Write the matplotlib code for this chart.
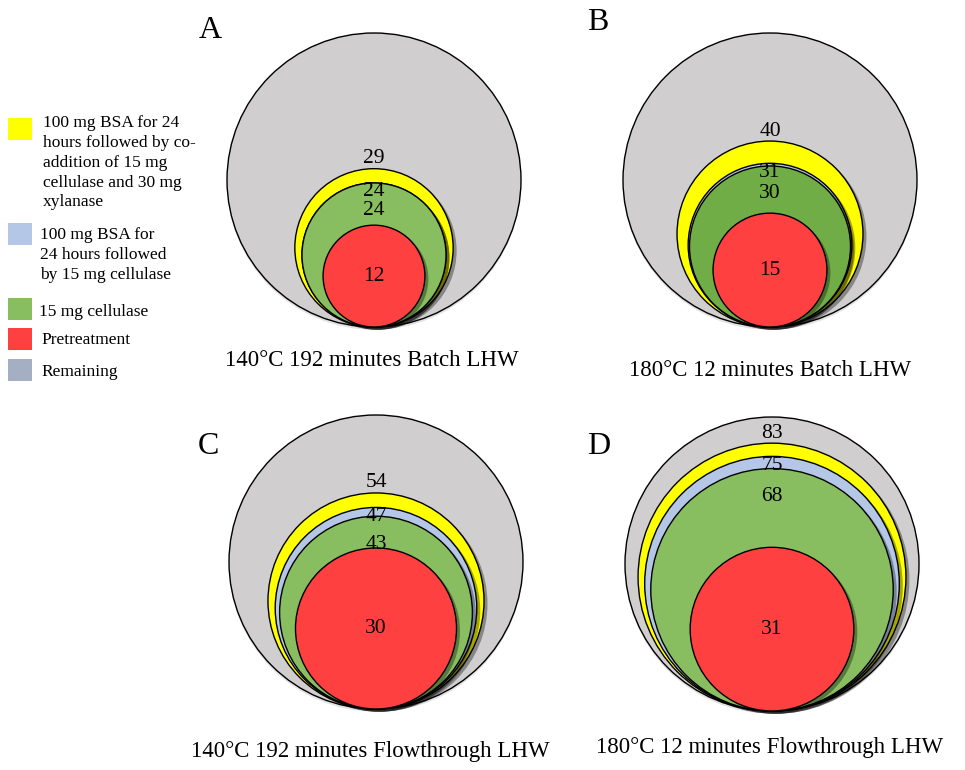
import matplotlib
matplotlib.use('Agg')
import matplotlib.pyplot as plt
import matplotlib.patheffects as pe
from matplotlib.patches import Circle, Rectangle
import numpy as np

plt.rcParams['font.family'] = ['Liberation Serif', 'DejaVu Serif']

# Données (% cumulés)
panneaux = ['A', 'B', 'C', 'D']
sous_titres = ['140°C 192 minutes Batch LHW',
               '180°C 12 minutes Batch LHW',
               '140°C 192 minutes Flowthrough LHW',
               '180°C 12 minutes Flowthrough LHW']
pretraitement = [12, 15, 30, 31]
cellulase = [24, 30, 43, 68]
bsa_cellulase = [24, 31, 47, 75]
bsa_cellulase_xylanase = [29, 40, 54, 83]
total = [100, 100, 100, 100]

legende_textes = ['100 mg BSA for 24\nhours followed by co-\naddition of 15 mg\ncellulase and 30 mg\nxylanase',
                  '100 mg BSA for\n24 hours followed\nby 15 mg cellulase',
                  '15 mg cellulase',
                  'Pretreatment',
                  'Remaining']

# Couleurs
gris = '#D0CECF'
jaune = '#FFFF00'
bleu = '#B4C7E7'
rouge = '#FF4040'
verts = ['#88BE5F', '#70AD47', '#88BE5F', '#88BE5F']
legende_couleurs = [jaune, bleu, '#88BE5F', rouge, '#A5AFC3']

fig = plt.figure(figsize=(9.65, 7.7), dpi=100)
ax = fig.add_axes([0, 0, 1, 1])
ax.set_xlim(0, 965)
ax.set_ylim(770, 0)
ax.set_aspect('equal')
ax.axis('off')

# Position des panneaux (centre x, bas du cercle) en pixels
positions = [(374, 327), (770, 327), (376, 709), (772, 711)]
lettres_pos = [(210, 31), (598, 23), (208, 446), (599, 446)]
titres_pos = [(372, 360), (770, 370), (370, 752), (770, 747)]
R = 147

ombre = [pe.SimplePatchShadow(offset=(2.5, -2), shadow_rgbFace='black', alpha=0.35), pe.Normal()]

for i in range(4):
    cx, bas = positions[i]
    couches = [(total[i], gris, None),
               (bsa_cellulase_xylanase[i], jaune, -10),
               (bsa_cellulase[i], bleu, 9),
               (cellulase[i], verts[i], 28),
               (pretraitement[i], rouge, 'centre')]
    for k, (val, coul, dy) in enumerate(couches):
        r = R * np.sqrt(val / 100)
        c = Circle((cx, bas - r), r, facecolor=coul, edgecolor='black', linewidth=1.0, zorder=2 + k)
        c.set_path_effects(ombre if k > 0 else [pe.SimplePatchShadow(offset=(0, -2), alpha=0.15), pe.Normal()])
        ax.add_patch(c)
        if dy is None:
            continue
        if dy == 'centre':
            ty = bas - r
        else:
            ty = bas - 2 * r + dy
        ax.text(cx, ty, f'{val}', ha='center', va='center', fontsize=15.5, zorder=10)

    ax.text(lettres_pos[i][0], lettres_pos[i][1], panneaux[i], ha='center', va='center', fontsize=23)
    ax.text(titres_pos[i][0], titres_pos[i][1], sous_titres[i], ha='center', va='center', fontsize=16.5)

# Légende
carres_y = [118, 223, 298, 328, 359]
textes_y = [115, 227, 312, 340, 372]
textes_x = [43, 40, 39, 41, 41]
for coul, txt, cy, ty, tx in zip(legende_couleurs, legende_textes, carres_y, textes_y, textes_x):
    ax.add_patch(Rectangle((8, cy), 24, 22, facecolor=coul, edgecolor='none'))
    ax.text(tx, ty, txt, ha='left', va='center' if '\n' not in txt else 'top', fontsize=12.5,
            linespacing=1.32)

plt.savefig('out.png', dpi=100)
plt.close()
